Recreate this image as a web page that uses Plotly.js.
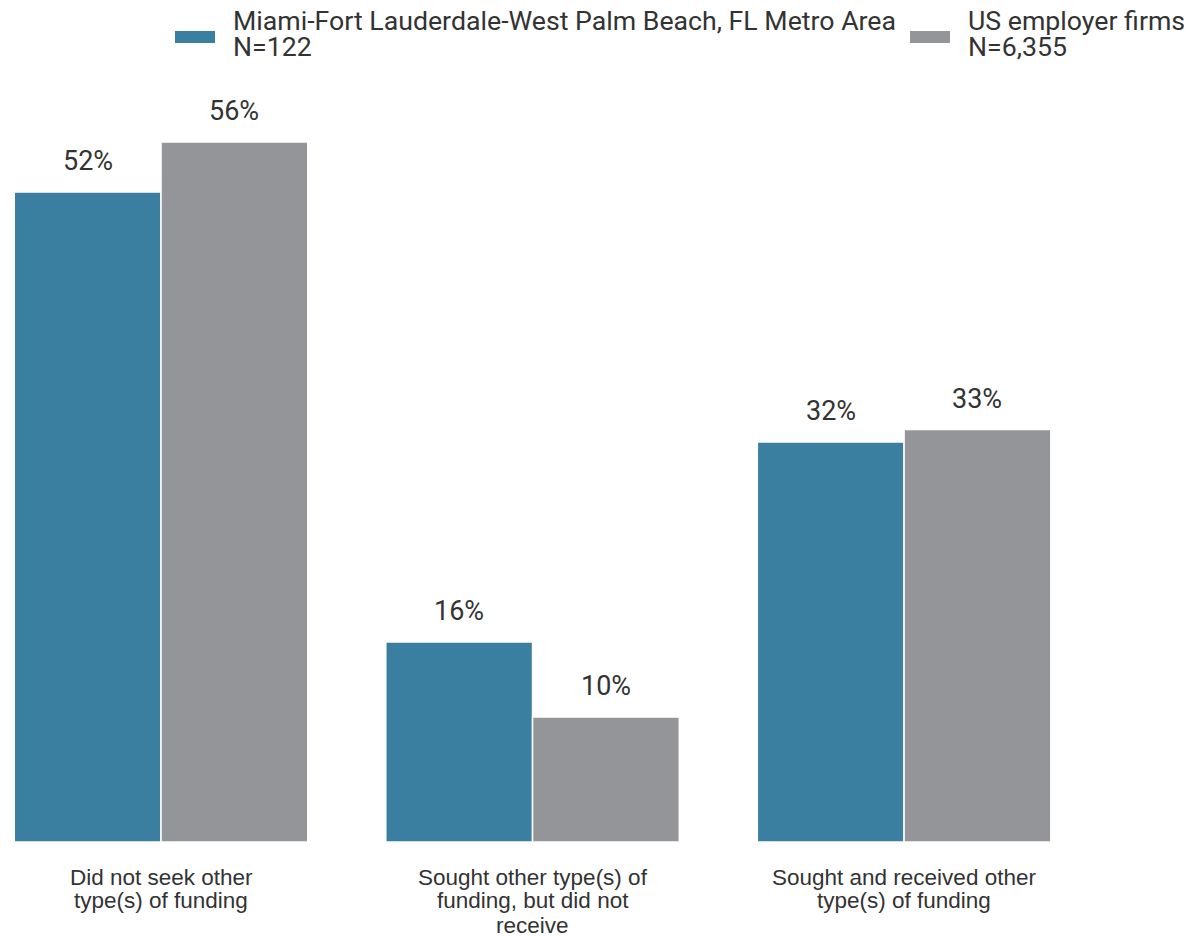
<!DOCTYPE html>
<html>
<head>
<meta charset="utf-8">
<script src="https://cdn.plot.ly/plotly-3.0.1.min.js"></script>
<style>
  html, body { margin: 0; padding: 0; background: #fff; }
  #chart { width: 1192px; height: 936px; }
</style>
</head>
<body>
<div id="chart"></div>
<script>
var categories = [
    'Did not seek other<br>type(s) of funding',
    'Sought other type(s) of<br>funding, but did not<br>receive',
    'Sought and received other<br>type(s) of funding'
];
var seriesNames = [
    'Miami-Fort Lauderdale-West Palm Beach, FL Metro Area<br>N=122',
    'US employer firms<br>N=6,355'
];
var miamiValues = [52, 16, 32];
var usValues = [56, 10, 33];
var seriesColors = ['#3a7ea0', '#939598'];

var W = 1192, H = 936, plotH = 842;
var bargap = 0.21;
var allValues = [miamiValues, usValues];

var data = allValues.map(function(vals, s) {
    return {
        type: 'bar',
        x: [0, 1, 2],
        y: vals,
        name: seriesNames[s],
        showlegend: false,
        marker: {
            color: seriesColors[s],
            line: {color: '#ffffff', width: 1.5}
        },
        textposition: 'none',
        hoverinfo: 'y'
    };
});

var annotations = [];

// value labels above bars
var half = (1 - bargap) / 4;
allValues.forEach(function(vals, s) {
    vals.forEach(function(v, i) {
        annotations.push({
            x: i + (s === 0 ? -half : half),
            y: v,
            xref: 'x', yref: 'y',
            text: v + '%',
            showarrow: false,
            yanchor: 'middle',
            yshift: 31,
            font: {family: 'Roboto', size: 27, color: '#333333'}
        });
    });
});

// category labels, one annotation per line for tight line spacing
categories.forEach(function(cat, i) {
    cat.split('<br>').forEach(function(line, k) {
        annotations.push({
            x: i, xref: 'x',
            y: -(877 + 24 * k - plotH) / plotH, yref: 'paper',
            text: line, showarrow: false,
            xanchor: 'center', yanchor: 'middle', borderpad: 0,
            font: {family: 'Liberation Sans', size: 22.5, color: '#333333'}
        });
    });
});

// legend drawn by hand (wide swatches, tight lines)
var legendX = [175, 910];
var shapes = [];
seriesNames.forEach(function(name, s) {
    shapes.push({
        type: 'rect', xref: 'paper', yref: 'paper',
        x0: legendX[s] / W, x1: (legendX[s] + 40) / W,
        y0: (plotH - 43) / plotH, y1: (plotH - 31) / plotH,
        fillcolor: seriesColors[s], line: {width: 0}
    });
    name.split('<br>').forEach(function(line, k) {
        annotations.push({
            xref: 'paper', yref: 'paper',
            x: (legendX[s] + 57) / W, y: (plotH - 21 - 26 * k) / plotH,
            xanchor: 'left', yanchor: 'middle', align: 'left', borderpad: 0,
            text: line, showarrow: false,
            font: {family: 'Roboto', size: 26.7, color: '#333333'}
        });
    });
});

var layout = {
    width: W,
    height: H,
    margin: {t: 0, b: H - plotH, l: 0, r: 0},
    paper_bgcolor: '#ffffff',
    plot_bgcolor: '#ffffff',
    barmode: 'group',
    bargap: bargap,
    bargroupgap: 0,
    showlegend: false,
    xaxis: {
        range: [-0.4334, 2.775],
        tickvals: [0, 1, 2],
        showticklabels: false,
        showgrid: false,
        zeroline: false,
        showline: false,
        ticks: ''
    },
    yaxis: {
        range: [0, plotH / 12.5],
        showgrid: false,
        zeroline: false,
        showline: false,
        showticklabels: false,
        ticks: ''
    },
    shapes: shapes,
    annotations: annotations
};

Plotly.newPlot('chart', data, layout, {displayModeBar: false});
</script>
</body>
</html>
